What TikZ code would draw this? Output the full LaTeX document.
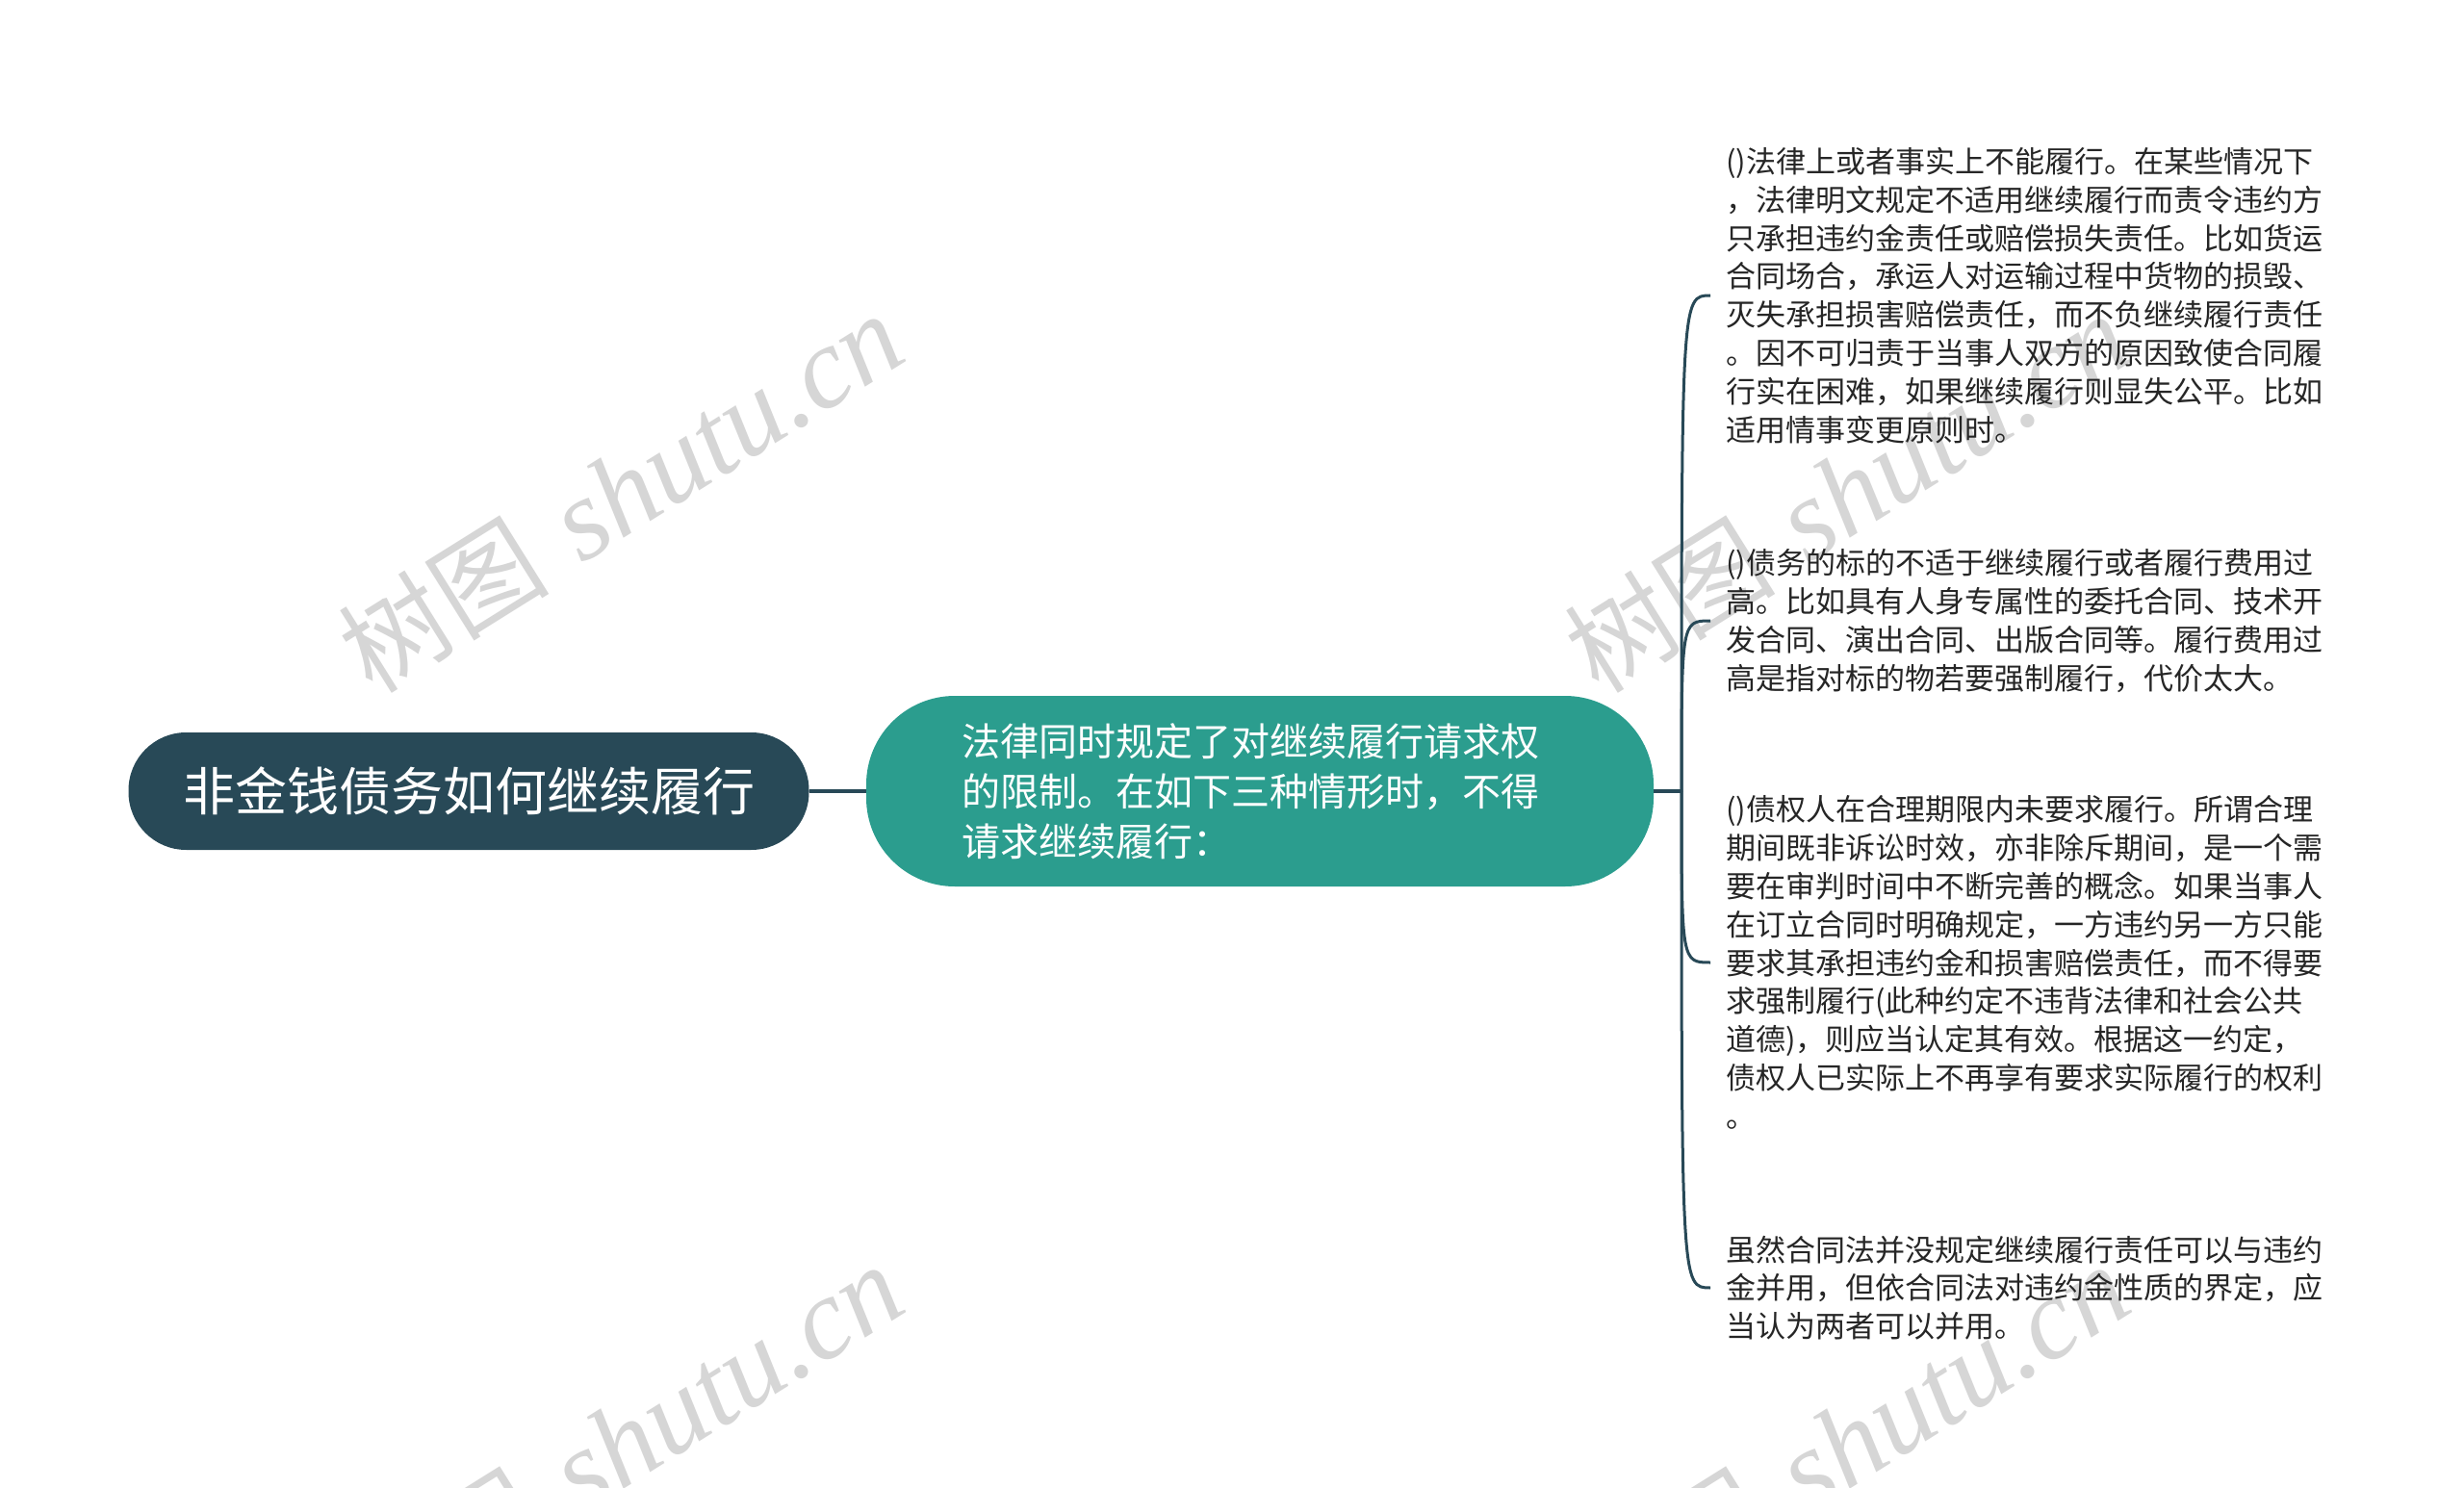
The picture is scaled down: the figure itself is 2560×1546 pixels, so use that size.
\documentclass[tikz,border=0pt]{standalone}
\usepackage{fontspec}
\usepackage{tikz}
\usetikzlibrary{positioning}
\newfontfamily\cjk{Noto Sans CJK SC}
\newfontfamily\wmlatin{Liberation Serif}
\definecolor{shutudark}{RGB}{40,73,87}
\definecolor{shututeal}{RGB}{43,157,142}
\definecolor{wmgray}{RGB}{214,214,214}

\begin{document}
\begin{tikzpicture}[
    x=0.5pt, y=-0.5pt,
    root/.style={rectangle, rounded corners=30pt, fill=shutudark, text=white, minimum width=353.5pt, minimum height=61pt, inner sep=0pt, font=\cjk\fontsize{27pt}{34pt}\selectfont},
    topic/.style={rectangle, rounded corners=46pt, fill=shututeal, text=white, minimum width=409pt, minimum height=99pt, inner sep=0pt, text width=310pt, align=left, font=\cjk\fontsize{20pt}{26pt}\selectfont},
    leaf/.style={anchor=west, inner xsep=8pt, inner ysep=0pt, align=left, text=black!85, font=\cjk\fontsize{15.5pt}{19.9pt}\selectfont},
    link/.style={draw=shutudark, line width=2pt},
    branch/.style={draw=shutudark, line width=1.5pt},
    wmark/.style={rotate=32, text=wmgray, font=\fontsize{60pt}{60pt}\selectfont}
]
    % Page
    \fill[white] (0,0) rectangle (2560,1546);
    \useasboundingbox (0,0) rectangle (2560,1546);

    % Watermarks
    \node[wmark] (wm1) at (645,512) {{\cjk\fontsize{55pt}{60pt}\selectfont 树图} {\wmlatin\itshape shutu.cn}};
    \node[wmark] (wm2) at (1919,512) {{\cjk\fontsize{55pt}{60pt}\selectfont 树图} {\wmlatin\itshape shutu.cn}};
    \node[wmark] (wm3) at (645,1500) {{\cjk\fontsize{55pt}{60pt}\selectfont 树图} {\wmlatin\itshape shutu.cn}};
    \node[wmark] (wm4) at (1919,1500) {{\cjk\fontsize{55pt}{60pt}\selectfont 树图} {\wmlatin\itshape shutu.cn}};

    % Root and topic
    \node[root] (root) at (487,822) {非金钱债务如何继续履行};
    \node[topic] (sub) at (1309,822) {法律同时规定了对继续履行请求权\\的限制。在如下三种情形时，不得\\请求继续履行：};
    \coordinate (fork) at (1747,822);

    % Leaves
    \node[leaf] (l1) at (1777,307) {()法律上或者事实上不能履行。在某些情况下\\，法律明文规定不适用继续履行而责令违约方\\只承担违约金责任或赔偿损失责任。比如货运\\合同场合，承运人对运输过程中货物的损毁、\\灭失承担损害赔偿责任，而不负继续履行责任\\。因不可归责于当事人双方的原因致使合同履\\行实在困难，如果继续履行则显失公平。比如\\适用情事变更原则时。};
    \node[leaf] (l2) at (1777,645) {()债务的标的不适于继续履行或者履行费用过\\高。比如具有人身专属性的委托合同、技术开\\发合同、演出合同、出版合同等。履行费用过\\高是指对标的物若要强制履行，代价太大。};
    \node[leaf] (l3) at (1777,1000) {()债权人在合理期限内未要求履行。所谓合理\\期间既非诉讼时效，亦非除斥期间，是一个需\\要在审判时间中不断完善的概念。如果当事人\\在订立合同时明确规定，一方违约另一方只能\\要求其承担违约金和损害赔偿责任，而不得要\\求强制履行(此种约定不违背法律和社会公共\\道德)，则应当认定其有效。根据这一约定，\\债权人已实际上不再享有要求实际履行的权利\\。};
    \node[leaf] (l4) at (1777,1338) {虽然合同法并没规定继续履行责任可以与违约\\金并用，但依合同法对违约金性质的界定，应\\当认为两者可以并用。};

    % Connectors
    \draw[link] (root) -- (sub);
    \draw[link] (sub) -- (fork);
    \foreach \leafname in {l1,l2,l3,l4}
        \draw[branch] (fork) .. controls (fork |- \leafname.west) .. (\leafname.west);
\end{tikzpicture}
\end{document}
